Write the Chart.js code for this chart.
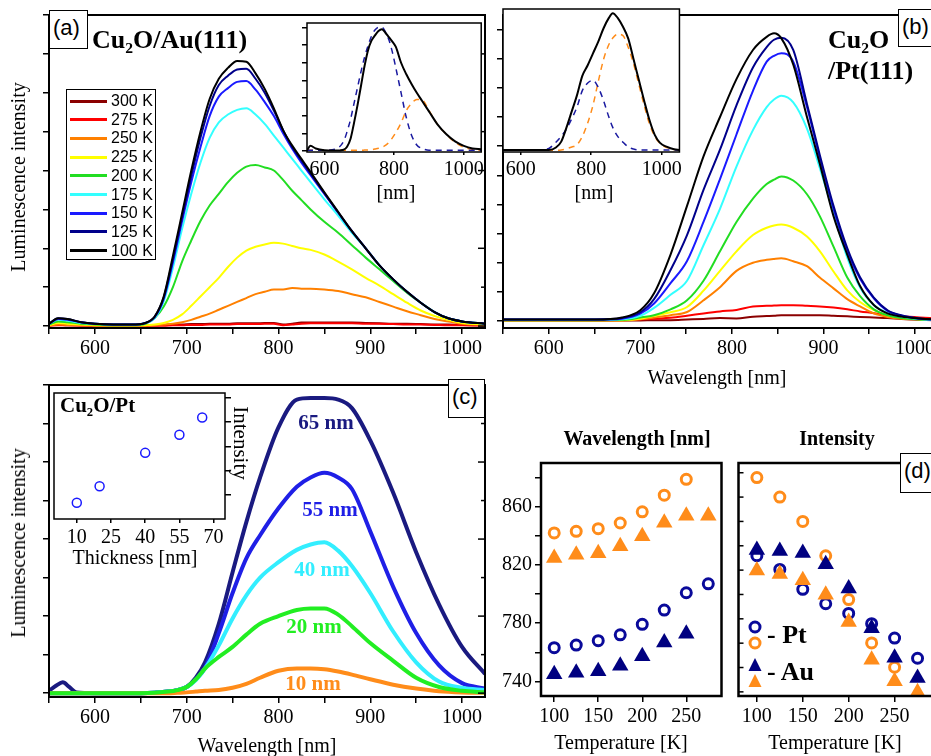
<!DOCTYPE html>
<html>
<head>
<meta charset="utf-8">
<script src="https://cdn.jsdelivr.net/npm/chart.js@4.4.1/dist/chart.umd.min.js"></script>
<style>
html, body { margin: 0; padding: 0; background: #fff; overflow: hidden; }
body { position: relative; width: 931px; height: 756px; }
canvas { position: absolute; }
.t { position: absolute; white-space: nowrap; line-height: 1; font-family: 'Liberation Serif', 'Times New Roman', serif; color: #000; }
.cc { transform: translate(-50%, -50%); }
.vc { transform: translateY(-50%); }
.bold { font-weight: bold; }
.sub { font-size: 0.6em; position: relative; top: 0.35em; }
.box { position: absolute; border: 1.5px solid #000; background: #fff; box-sizing: border-box;
       font-family: 'Liberation Sans', Arial, sans-serif; font-size: 22px; line-height: 1; padding: 6px 0 0 3px; }
</style>
</head>
<body>
<canvas id="chartA"></canvas>
<canvas id="insetA"></canvas>
<canvas id="chartB"></canvas>
<canvas id="insetB"></canvas>
<canvas id="chartC"></canvas>
<canvas id="insetC"></canvas>
<canvas id="chartD1"></canvas>
<canvas id="chartD2"></canvas>

<!-- panel (a) -->
<div class="box" style="left:49px;top:10px;width:39px;height:39px;">(a)</div>
<div class="t vc bold" style="left:92px;top:40px;font-size:26px;">Cu<span class="sub">2</span>O/Au(111)</div>
<div class="t cc" style="left:18px;top:177px;font-size:20px;transform:translate(-50%,-50%) rotate(-90deg);">Luminescence intensity</div>
<div class="t cc" style="left:396px;top:192px;font-size:20px;">[nm]</div>
<div id="legA" style="position:absolute;left:66px;top:89px;width:90px;height:171px;border:1.5px solid #000;background:#fff;box-sizing:border-box;"></div>

<!-- panel (b) -->
<div class="box" style="left:898px;top:9px;width:45px;height:38px;">(b)</div>
<div class="t vc bold" style="left:828px;top:40px;font-size:26px;">Cu<span class="sub">2</span>O</div>
<div class="t vc bold" style="left:828px;top:71px;font-size:26px;">/Pt(111)</div>
<div class="t cc" style="left:594px;top:192px;font-size:20px;">[nm]</div>
<div class="t cc" style="left:717px;top:377px;font-size:20px;">Wavelength [nm]</div>

<!-- panel (c) -->
<div class="box" style="left:448px;top:379px;width:37px;height:39px;">(c)</div>
<div class="t vc bold" style="left:60px;top:405px;font-size:21px;">Cu<span class="sub">2</span>O/Pt</div>
<div class="t cc" style="left:240px;top:443px;font-size:21px;transform:translate(-50%,-50%) rotate(90deg);">Intensity</div>
<div class="t cc" style="left:135px;top:557px;font-size:20px;">Thickness [nm]</div>
<div class="t cc" style="left:18px;top:543px;font-size:20px;transform:translate(-50%,-50%) rotate(-90deg);">Luminescence intensity</div>
<div class="t cc" style="left:267px;top:745px;font-size:20px;">Wavelength [nm]</div>
<div class="t cc bold" style="left:326px;top:422px;font-size:21px;color:#1a1a80;">65 nm</div>
<div class="t cc bold" style="left:330px;top:509px;font-size:21px;color:#1f1fe6;">55 nm</div>
<div class="t cc bold" style="left:322px;top:569px;font-size:21px;color:#33eeff;">40 nm</div>
<div class="t cc bold" style="left:314px;top:626px;font-size:21px;color:#22ee22;">20 nm</div>
<div class="t cc bold" style="left:313px;top:683px;font-size:21px;color:#ff8c1a;">10 nm</div>

<!-- panel (d) -->
<div class="t cc bold" style="left:637px;top:438px;font-size:20px;">Wavelength [nm]</div>
<div class="t cc bold" style="left:837px;top:438px;font-size:20px;">Intensity</div>
<div class="box" style="left:900px;top:453px;width:45px;height:40px;">(d)</div>
<div class="t cc" style="left:621px;top:742px;font-size:20px;">Temperature [K]</div>
<div class="t cc" style="left:835px;top:742px;font-size:20px;">Temperature [K]</div>
<svg style="position:absolute;left:740px;top:615px;" width="30" height="80">
  <circle cx="15" cy="12" r="5" fill="none" stroke="#0a0a9a" stroke-width="3"/>
  <circle cx="15" cy="28" r="5" fill="none" stroke="#ff8c1a" stroke-width="3"/>
  <polygon points="15,43 21.5,56 8.5,56" fill="#000080"/>
  <polygon points="15,59 21.5,72 8.5,72" fill="#ff8c1a"/>
</svg>
<div class="t vc bold" style="left:767px;top:635px;font-size:26px;">- Pt</div>
<div class="t vc bold" style="left:767px;top:672px;font-size:26px;">- Au</div>

<script>
// ---------- panel (a): Cu2O/Au(111), luminescence vs temperature ----------
const tempLabels = ['300 K', '275 K', '250 K', '225 K', '200 K', '175 K', '150 K', '125 K', '100 K'];
const tempColors = ['#8b0000', '#ff0000', '#ff8000', '#ffff00', '#22dd22', '#33ffff', '#1a1aff', '#00008b', '#000000'];

const wlA = [550, 560, 570, 585, 600, 620, 640, 655, 665, 675, 685, 695, 705, 715, 725, 735, 745, 755, 765,
  775, 785, 795, 805, 815, 825, 835, 850, 865, 880, 895, 910, 925, 940, 955, 970, 985, 1000, 1025];
const a100 = [0.03, 0.10, 0.09, 0.05, 0.03, 0.02, 0.02, 0.04, 0.12, 0.38, 0.90, 1.45, 2.00, 2.50, 2.92, 3.18, 3.32, 3.41, 3.40,
  3.25, 3.05, 2.80, 2.52, 2.32, 2.15, 1.98, 1.72, 1.47, 1.22, 1.00, 0.78, 0.60, 0.44, 0.30, 0.18, 0.10, 0.06, 0.03];
const a125 = [0.03, 0.10, 0.09, 0.05, 0.03, 0.02, 0.02, 0.04, 0.12, 0.37, 0.86, 1.40, 1.93, 2.42, 2.83, 3.10, 3.22, 3.30, 3.31,
  3.18, 3.00, 2.77, 2.52, 2.30, 2.13, 1.96, 1.71, 1.46, 1.22, 1.00, 0.78, 0.60, 0.44, 0.30, 0.18, 0.10, 0.06, 0.03];
const a150 = [0.03, 0.09, 0.08, 0.05, 0.03, 0.02, 0.02, 0.04, 0.11, 0.35, 0.82, 1.35, 1.85, 2.30, 2.70, 2.95, 3.06, 3.14, 3.15,
  3.04, 2.88, 2.70, 2.48, 2.28, 2.10, 1.94, 1.70, 1.46, 1.22, 1.00, 0.78, 0.60, 0.44, 0.30, 0.18, 0.10, 0.06, 0.03];
const a175 = [0.03, 0.08, 0.07, 0.04, 0.03, 0.02, 0.02, 0.04, 0.10, 0.32, 0.75, 1.25, 1.70, 2.10, 2.42, 2.62, 2.72, 2.78, 2.80,
  2.72, 2.60, 2.45, 2.30, 2.15, 2.00, 1.85, 1.63, 1.42, 1.20, 1.00, 0.78, 0.60, 0.44, 0.30, 0.18, 0.10, 0.06, 0.03];
const a200 = [0.02, 0.06, 0.05, 0.03, 0.02, 0.01, 0.01, 0.03, 0.10, 0.25, 0.50, 0.83, 1.10, 1.35, 1.55, 1.70, 1.85, 1.97, 2.05,
  2.07, 2.04, 2.00, 1.88, 1.74, 1.62, 1.50, 1.34, 1.20, 1.04, 0.88, 0.73, 0.58, 0.43, 0.30, 0.18, 0.10, 0.06, 0.03];
const a225 = [0.01, 0.04, 0.03, 0.02, 0.01, 0.01, 0.01, 0.01, 0.02, 0.04, 0.08, 0.15, 0.26, 0.38, 0.50, 0.62, 0.76, 0.88, 0.97,
  1.02, 1.05, 1.07, 1.06, 1.03, 1.00, 0.98, 0.92, 0.83, 0.73, 0.62, 0.52, 0.41, 0.30, 0.20, 0.13, 0.08, 0.04, 0.02];
const a250 = [0.005, 0.02, 0.015, 0.01, 0.005, 0, 0, 0.005, 0.01, 0.02, 0.03, 0.05, 0.08, 0.12, 0.16, 0.21, 0.26, 0.31, 0.36,
  0.41, 0.44, 0.47, 0.47, 0.49, 0.48, 0.48, 0.47, 0.45, 0.41, 0.37, 0.31, 0.25, 0.19, 0.14, 0.09, 0.06, 0.03, 0.01];
const a275 = [0.005, 0.01, 0.01, 0.005, 0, 0, 0, 0, 0.005, 0.005, 0.01, 0.01, 0.015, 0.015, 0.02, 0.02, 0.02, 0.025, 0.025,
  0.025, 0.03, 0.03, 0.01, 0.02, 0.03, 0.035, 0.035, 0.035, 0.035, 0.03, 0.03, 0.025, 0.02, 0.02, 0.015, 0.01, 0.01, 0.005];
const a300 = [0.01, 0.02, 0.01, 0.01, 0.005, 0.005, 0.005, 0.01, 0.01, 0.015, 0.02, 0.02, 0.025, 0.025, 0.03, 0.03, 0.03, 0.035, 0.035,
  0.035, 0.04, 0.04, 0.02, 0.03, 0.045, 0.045, 0.045, 0.045, 0.045, 0.04, 0.035, 0.03, 0.03, 0.025, 0.02, 0.02, 0.015, 0.01];

// inset (a): 100 K spectrum and its two fitted components
const wlInA = [550, 560, 575, 600, 630, 655, 665, 675, 685, 695, 705, 715, 725, 735, 745, 755, 765, 775, 785, 795, 805,
  820, 835, 850, 865, 880, 900, 925, 950, 975, 1000, 1025, 1050];
const inA_total = [0.05, 0.3, 0.15, 0.05, 0.03, 0.08, 0.25, 0.7, 1.6, 2.6, 3.7, 4.8, 5.7, 6.25, 6.55, 6.8, 6.9, 6.7, 6.45, 6.2, 5.9,
  5.0, 4.35, 3.8, 3.3, 2.85, 2.25, 1.5, 0.95, 0.55, 0.3, 0.15, 0.1];
const inA_blue = [0.05, 0.05, 0.05, 0.05, 0.1, 0.55, 1.1, 1.8, 2.7, 3.6, 4.5, 5.3, 5.95, 6.5, 6.85, 7.0, 7.0, 6.75, 6.3, 5.6, 4.7,
  3.3, 1.9, 0.9, 0.35, 0.15, 0.05, 0.05, 0.05, 0.05, 0.05, 0.05, 0.05];
const inA_orange = [0.05, 0.05, 0.05, 0.05, 0.05, 0.05, 0.05, 0.05, 0.05, 0.05, 0.05, 0.06, 0.07, 0.08, 0.12, 0.16, 0.22, 0.32, 0.5, 0.75, 1.05,
  1.6, 2.3, 2.7, 2.92, 2.9, 2.3, 1.5, 0.95, 0.5, 0.22, 0.1, 0.05];

// ---------- panel (b): Cu2O/Pt(111) ----------
const wlB = [550, 650, 680, 700, 715, 733, 751, 769, 787, 805, 823, 838, 846, 854, 867, 882, 896, 911, 926, 940, 955, 970, 985, 1005, 1030];
const b100 = [0.05, 0.05, 0.12, 0.37, 0.95, 2.28, 3.95, 5.65, 7.0, 8.3, 9.3, 9.75, 9.87, 9.7, 8.8, 7.0, 5.4, 3.6, 2.28, 1.2, 0.55, 0.26, 0.15, 0.09, 0.05];
const b125 = [0.05, 0.05, 0.10, 0.30, 0.75, 1.75, 2.95, 4.5, 5.88, 7.4, 8.7, 9.4, 9.65, 9.72, 9.3, 7.45, 5.7, 3.95, 2.5, 1.5, 0.8, 0.37, 0.2, 0.09, 0.05];
const b150 = [0.05, 0.05, 0.08, 0.25, 0.60, 1.30, 2.06, 3.4, 4.87, 6.4, 7.9, 8.9, 9.1, 9.19, 8.9, 7.34, 5.6, 3.85, 2.39, 1.45, 0.78, 0.35, 0.18, 0.08, 0.04];
const b175 = [0.04, 0.04, 0.06, 0.18, 0.45, 0.9, 1.38, 2.6, 3.85, 5.3, 6.55, 7.34, 7.6, 7.73, 7.5, 6.6, 5.25, 3.7, 2.17, 1.15, 0.55, 0.28, 0.15, 0.07, 0.03];
const b200 = [0.03, 0.03, 0.04, 0.12, 0.2, 0.4, 0.71, 1.38, 2.39, 3.4, 4.2, 4.7, 4.85, 4.96, 4.82, 4.35, 3.6, 2.55, 1.49, 0.85, 0.4, 0.2, 0.1, 0.05, 0.02];
const b225 = [0.03, 0.03, 0.03, 0.08, 0.18, 0.3, 0.48, 1.04, 1.72, 2.39, 2.95, 3.2, 3.28, 3.31, 3.2, 2.9, 2.4, 1.7, 1.05, 0.65, 0.37, 0.2, 0.12, 0.06, 0.03];
const b250 = [0.02, 0.02, 0.02, 0.06, 0.12, 0.2, 0.31, 0.71, 1.16, 1.72, 2.0, 2.1, 2.13, 2.15, 2.05, 1.88, 1.49, 1.12, 0.75, 0.5, 0.26, 0.14, 0.08, 0.05, 0.02];
const b275 = [0.02, 0.02, 0.03, 0.05, 0.08, 0.11, 0.18, 0.26, 0.33, 0.38, 0.5, 0.52, 0.53, 0.54, 0.54, 0.52, 0.5, 0.46, 0.4, 0.33, 0.27, 0.2, 0.16, 0.12, 0.08];
const b300 = [0.03, 0.02, 0.02, 0.02, 0.03, 0.03, 0.05, 0.07, 0.1, 0.09, 0.15, 0.17, 0.18, 0.2, 0.2, 0.2, 0.2, 0.18, 0.16, 0.14, 0.12, 0.1, 0.07, 0.04, 0.02];

// inset (b)
const wlInB = [550, 600, 650, 680, 700, 715, 730, 745, 760, 775, 790, 805, 820, 835, 850, 861, 875, 890, 905, 920, 935,
  950, 965, 980, 995, 1015, 1035, 1050];
const inB_total = [0.04, 0.04, 0.04, 0.04, 0.12, 0.32, 0.8, 1.35, 1.9, 2.55, 2.9, 3.3, 3.7, 4.15, 4.5, 4.66, 4.5, 4.2, 3.8, 3.1, 2.4,
  1.7, 1.05, 0.55, 0.28, 0.14, 0.06, 0.04];
const inB_blue = [0.04, 0.04, 0.04, 0.09, 0.3, 0.5, 0.75, 1.1, 1.5, 2.05, 2.3, 2.39, 2.15, 1.7, 1.15, 0.8, 0.5, 0.3, 0.14, 0.07, 0.04,
  0.04, 0.04, 0.04, 0.04, 0.04, 0.04, 0.04];
const inB_orange = [0.03, 0.03, 0.03, 0.03, 0.03, 0.04, 0.08, 0.14, 0.22, 0.5, 0.95, 1.55, 2.35, 3.1, 3.6, 3.82, 3.95, 3.9, 3.5, 2.95, 2.25,
  1.55, 0.92, 0.5, 0.26, 0.12, 0.05, 0.03];

// ---------- panel (c): thickness series on Pt ----------
const thickLabels = ['10 nm', '20 nm', '40 nm', '55 nm', '65 nm'];
const thickColors = ['#ff8c1a', '#22ee22', '#33eeff', '#1f1fe6', '#1a1a80'];
const wlC = [550, 558, 565, 572, 580, 600, 650, 680, 690, 700, 710, 720, 735, 750, 765, 780, 800, 820, 835, 850, 865, 880, 900, 925, 950, 975, 1000, 1025];
const c65 = [0.03, 0.1, 0.14, 0.08, 0.01, 0, 0, 0.02, 0.04, 0.08, 0.2, 0.4, 0.9, 1.57, 2.22, 2.8, 3.45, 3.81, 3.83, 3.83, 3.81, 3.7, 3.28, 2.6, 1.83, 1.15, 0.6, 0.25];
const c55 = [0, 0, 0, 0, 0, 0, 0, 0.02, 0.04, 0.08, 0.18, 0.33, 0.78, 1.3, 1.75, 2.05, 2.4, 2.68, 2.8, 2.86, 2.8, 2.65, 2.1, 1.38, 0.78, 0.36, 0.13, 0.06];
const c40 = [0, 0, 0, 0, 0, 0, 0, 0.02, 0.04, 0.08, 0.17, 0.32, 0.62, 0.97, 1.27, 1.5, 1.7, 1.86, 1.93, 1.96, 1.85, 1.65, 1.3, 0.8, 0.4, 0.15, 0.07, 0.04];
const c20 = [0, 0, 0, 0, 0, 0, 0, 0.02, 0.04, 0.08, 0.18, 0.32, 0.47, 0.6, 0.76, 0.9, 1.0, 1.08, 1.1, 1.1, 1.02, 0.87, 0.65, 0.42, 0.2, 0.08, 0.03, 0.01];
const c10 = [0, 0, 0, 0, 0, 0, 0, 0, 0.005, 0.01, 0.02, 0.03, 0.04, 0.07, 0.12, 0.2, 0.29, 0.32, 0.32, 0.31, 0.28, 0.24, 0.18, 0.11, 0.06, 0.025, 0.01, 0.005];

// inset (c): peak intensity vs thickness
const thickness = [10, 20, 40, 55, 65];
const thickIntensity = [0.67, 1.35, 2.73, 3.48, 4.19];

// ---------- panel (d): peak positions and intensities vs temperature ----------
const temps = [100, 125, 150, 175, 200, 225, 250, 275];
const wlPtHigh = [842.0, 843.1, 844.9, 848.8, 856.5, 867.9, 878.8];          // orange circles
const wlAuHigh = [824.8, 827.0, 828.1, 832.9, 839.7, 848.9, 853.7, 853.7];   // orange triangles
const wlPtLow = [763.2, 765.0, 768.0, 772.0, 779.2, 789.0, 800.9, 807.0];    // blue circles
const wlAuLow = [744.9, 746.0, 747.0, 750.8, 757.3, 766.8, 772.7];           // blue triangles
const intPtHigh = [8.8, 8.0, 7.0, 5.59, 3.79, 2.01, 1.01];
const intPtLow = [5.59, 5.03, 4.21, 3.62, 3.22, 2.8, 2.21, 1.38];
const intAuLow = [5.83, 5.79, 5.7, 5.24, 4.25, 2.61, 1.4, 0.57];
const intAuHigh = [4.98, 4.84, 4.58, 3.99, 2.87, 1.32, 0.44, -0.02];

// ticks
const wlTicks = [550, 600, 650, 700, 750, 800, 850, 900, 950, 1000];
const wlTickLabels = [600, 700, 800, 900, 1000];
const insetWlTicks = [600, 800, 1000];
const halfTicks = [0, 0.5, 1, 1.5, 2, 2.5, 3, 3.5, 4];
const majorRight = [0, 1, 2, 3, 4];
const minorRight = [0.5, 1.5, 2.5, 3.5];
const unitTicksB = [0, 1, 2, 3, 4, 5, 6, 7, 8, 9, 10];
const unitTicksInA = [0, 1, 2, 3, 4, 5, 6, 7];
const thickTicks = [10, 25, 40, 55, 70];
const thickYTicks = [1, 2, 3, 4, 5];
const tempTicks = [100, 150, 200, 250];
const dWlTicks = [740, 760, 780, 800, 820, 840, 860, 880];
const dWlTickLabels = [740, 780, 820, 860];
const dIntTicks = [0, 1, 2, 3, 4, 5, 6, 7, 8, 9];

Chart.defaults.font.family = "'Liberation Serif', 'Times New Roman', serif";
Chart.defaults.color = '#000';

const pts = (xs, ys) => ys.map((y, i) => ({ x: xs[i], y: y }));

// white background inside the plot area, a black frame round it, and inward ticks
const framePlugin = {
  id: 'frame',
  beforeDatasetsDraw(chart, args, o) {
    const a = chart.chartArea, ctx = chart.ctx;
    if (o.fill) {
      ctx.save();
      ctx.fillStyle = '#fff';
      ctx.fillRect(a.left, a.top, a.right - a.left, a.bottom - a.top);
      ctx.restore();
    }
  },
  afterDatasetsDraw(chart, args, o) {
    const a = chart.chartArea, ctx = chart.ctx;
    ctx.save();
    ctx.strokeStyle = '#000';
    ctx.lineWidth = 1.5;
    (o.inner || []).forEach(t => {
      const sc = chart.scales.y;
      t.values.forEach(v => {
        const p = sc.getPixelForValue(v);
        ctx.beginPath();
        if (t.side === 'right') { ctx.moveTo(a.right, p); ctx.lineTo(a.right - t.len, p); }
        else { ctx.moveTo(a.left, p); ctx.lineTo(a.left + t.len, p); }
        ctx.stroke();
      });
    });
    ctx.lineWidth = o.width || 2;
    ctx.strokeRect(a.left, a.top, a.right - a.left, a.bottom - a.top);
    ctx.restore();
  }
};

function axis(a, dir, size) {
  return {
    type: 'linear',
    position: a.position || (dir === 'x' ? 'bottom' : 'left'),
    min: a.min, max: a.max,
    afterBuildTicks: s => { s.ticks = a.ticks.map(v => ({ value: v })); },
    afterFit: s => { if (dir === 'x') s.height = size; else s.width = size; },
    ticks: {
      autoSkip: false, maxRotation: 0, padding: a.pad || 3,
      font: { size: 20 }, color: '#000',
      callback: v => (a.labels && a.labels.includes(v)) ? String(v) : ''
    },
    grid: { drawOnChartArea: false, drawTicks: true, tickLength: a.tick === undefined ? 6 : a.tick, color: '#000', lineWidth: 1.5 },
    border: { display: false }
  };
}

// frame = [left, top, right, bottom] of the plot area, pad = room for the axes round it
function panel(id, frame, pad, type, datasets, xa, ya, frameOpts) {
  const cv = document.getElementById(id);
  cv.width = frame[2] - frame[0] + pad[0] + pad[2];
  cv.height = frame[3] - frame[1] + pad[1] + pad[3];
  cv.style.left = (frame[0] - pad[0]) + 'px';
  cv.style.top = (frame[1] - pad[1]) + 'px';
  const yRight = ya.position === 'right';
  return new Chart(cv, {
    type: type,
    data: { datasets: datasets },
    options: {
      responsive: false, animation: false, devicePixelRatio: 1,
      layout: { padding: { left: yRight ? pad[0] : 0, top: pad[1], right: yRight ? 0 : pad[2], bottom: 0 } },
      plugins: { legend: { display: false }, tooltip: { enabled: false }, frame: frameOpts || {} },
      elements: { point: { radius: 0 }, line: { borderWidth: 2, cubicInterpolationMode: 'monotone' } },
      scales: { x: axis(xa, 'x', pad[3]), y: axis(ya, 'y', yRight ? pad[2] : pad[0]) }
    },
    plugins: [framePlugin]
  });
}

const rightTicks = [{ side: 'right', values: majorRight, len: 7 }, { side: 'right', values: minorRight, len: 4 }];

// panel (a)
const seriesA = [a300, a275, a250, a225, a200, a175, a150, a125, a100];
panel('chartA', [49, 10, 485, 328], [49, 10, 8, 42], 'line',
  seriesA.map((s, i) => ({ data: pts(wlA, s), borderColor: tempColors[i], order: seriesA.length - i })),
  { min: 550, max: 1025, ticks: wlTicks, labels: wlTickLabels },
  { min: -0.025, max: 4.0, ticks: halfTicks }, { inner: rightTicks });

panel('insetA', [307, 10, 485, 152], [8, 2, 2, 30], 'line', [
  { data: pts(wlInA, inA_total), borderColor: '#000', borderWidth: 2, order: 0 },
  { data: pts(wlInA, inA_blue), borderColor: '#1a1aa0', borderWidth: 1.5, borderDash: [6, 5], order: 1 },
  { data: pts(wlInA, inA_orange), borderColor: '#ff8c1a', borderWidth: 1.5, borderDash: [6, 5], order: 2 }
], { min: 550, max: 1050, ticks: insetWlTicks, labels: insetWlTicks, tick: 3 },
   { min: -0.05, max: 7.25, ticks: unitTicksInA, tick: 5 }, { fill: true, width: 1.5 });

// panel (b)
const seriesB = [b300, b275, b250, b225, b200, b175, b150, b125, b100];
panel('chartB', [503, 9, 938, 328], [13, 9, 0, 42], 'line',
  seriesB.map((s, i) => ({ data: pts(wlB, s), borderColor: tempColors[i], order: seriesB.length - i })),
  { min: 550, max: 1025, ticks: wlTicks, labels: wlTickLabels },
  { min: -0.24, max: 10.5, ticks: unitTicksB });

panel('insetB', [503, 9, 683, 152], [2, 2, 2, 30], 'line', [
  { data: pts(wlInB, inB_total), borderColor: '#000', borderWidth: 2, order: 0 },
  { data: pts(wlInB, inB_blue), borderColor: '#1a1aa0', borderWidth: 1.5, borderDash: [6, 5], order: 1 },
  { data: pts(wlInB, inB_orange), borderColor: '#ff8c1a', borderWidth: 1.5, borderDash: [6, 5], order: 2 }
], { min: 550, max: 1050, ticks: insetWlTicks, labels: insetWlTicks, tick: 3 },
   { min: -0.03, max: 4.8, ticks: [], tick: 0 }, { fill: true, width: 1.5 });

// panel (c)
const seriesC = [c10, c20, c40, c55, c65];
const orderC = [1, 0, 2, 3, 4];
panel('chartC', [49, 379, 485, 697], [49, 9, 8, 40], 'line',
  seriesC.map((s, i) => ({ data: pts(wlC, s), borderColor: thickColors[i], borderWidth: 4, order: orderC[i] })),
  { min: 550, max: 1025, ticks: wlTicks, labels: wlTickLabels },
  { min: -0.05, max: 4.0, ticks: halfTicks }, { inner: rightTicks });

panel('insetC', [50, 380, 225, 519], [2, 2, 8, 30], 'scatter', [
  { data: pts(thickness, thickIntensity), borderColor: '#1a1aff', backgroundColor: 'rgba(0,0,0,0)',
    pointRadius: 4.5, borderWidth: 1.5, pointStyle: 'circle' }
], { min: 0, max: 75, ticks: thickTicks, labels: thickTicks, tick: 4 },
   { min: 0, max: 5.2, ticks: thickYTicks, position: 'right', tick: 6 }, { fill: true, width: 1.5 });

// panel (d): left = peak wavelength, right = intensity
const ring = c => ({ pointStyle: 'circle', pointRadius: 5, borderWidth: 3, borderColor: c, backgroundColor: 'rgba(0,0,0,0)', order: 2 });
const tri = c => ({ pointStyle: 'triangle', pointRadius: 9.5, borderWidth: 0, borderColor: c, backgroundColor: c, order: 1 });

panel('chartD1', [541, 453, 729, 696], [51, 5, 2, 60], 'scatter', [
  Object.assign({ data: pts(temps, wlPtHigh) }, ring('#ff8c1a')),
  Object.assign({ data: pts(temps, wlPtLow) }, ring('#0a0a9a')),
  Object.assign({ data: pts(temps, wlAuHigh) }, tri('#ff8c1a')),
  Object.assign({ data: pts(temps, wlAuLow) }, tri('#000080'))
], { min: 85, max: 290, ticks: tempTicks, labels: tempTicks },
   { min: 730, max: 890, ticks: dWlTicks, labels: dWlTickLabels }, { width: 2.5 });

panel('chartD2', [735, 453, 950, 696], [6, 5, 0, 60], 'scatter', [
  Object.assign({ data: pts(temps, intPtHigh) }, ring('#ff8c1a')),
  Object.assign({ data: pts(temps, intPtLow) }, ring('#0a0a9a')),
  Object.assign({ data: pts(temps, intAuHigh) }, tri('#ff8c1a')),
  Object.assign({ data: pts(temps, intAuLow) }, tri('#000080'))
], { min: 80, max: 300, ticks: tempTicks, labels: tempTicks },
   { min: -0.17, max: 9.4, ticks: dIntTicks, tick: 0 },
   { width: 2.5, inner: [{ side: 'left', values: dIntTicks, len: 5 }] });

// legend of panel (a)
const leg = document.getElementById('legA');
tempLabels.forEach((lab, i) => {
  const y = 11 + i * 18.7;
  const line = document.createElement('div');
  line.style.cssText = 'position:absolute;left:3px;width:37px;height:3px;top:' + (y - 1.5) + 'px;background:' + tempColors[i];
  leg.appendChild(line);
  const txt = document.createElement('div');
  txt.textContent = lab;
  txt.style.cssText = "position:absolute;left:44px;line-height:1;font-size:16px;font-family:'Liberation Sans',Arial,sans-serif;top:" + (y - 8) + 'px';
  leg.appendChild(txt);
});
</script>
</body>
</html>
